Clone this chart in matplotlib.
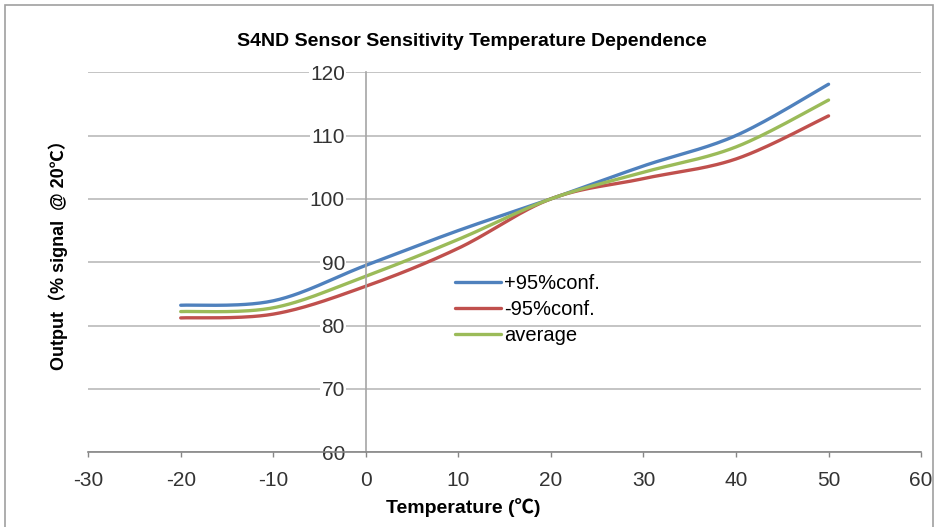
import numpy as np
import matplotlib
matplotlib.use("Agg")
import matplotlib.pyplot as plt
from matplotlib.patches import Rectangle

plt.rcParams['font.family'] = ['Liberation Sans', 'Noto Sans CJK SC', 'DejaVu Sans']
plt.rcParams['axes.unicode_minus'] = False

# 读数（从图上估计）
temps = [-20, -10, 0, 10, 20, 30, 40, 50]
upper_conf = [83.2, 83.9, 89.5, 95.0, 100.0, 105.2, 110.0, 118.1]
lower_conf = [81.2, 81.8, 86.2, 92.2, 100.0, 103.2, 106.3, 113.1]
average = [82.2, 82.8, 87.8, 93.6, 100.0, 104.2, 108.2, 115.6]

series_names = ['+95%conf.', '-95%conf.', 'average']
series_colors = ['#4F81BD', '#C0504D', '#9BBB59']


def smooth_line(x, y, n=30):
    # Excel 风格的平滑线（Catmull-Rom 贝塞尔）
    x = np.asarray(x, float)
    y = np.asarray(y, float)
    pts = np.column_stack([x, y])
    out = []
    for i in range(len(pts) - 1):
        p0 = pts[i - 1] if i > 0 else pts[i]
        p1 = pts[i]
        p2 = pts[i + 1]
        p3 = pts[i + 2] if i + 2 < len(pts) else pts[i + 1]
        c1 = p1 + (p2 - p0) / 6.0
        c2 = p2 - (p3 - p1) / 6.0
        t = np.linspace(0, 1, n)[:, None]
        seg = ((1 - t) ** 3) * p1 + 3 * ((1 - t) ** 2) * t * c1 + 3 * (1 - t) * t ** 2 * c2 + t ** 3 * p2
        out.append(seg if i == 0 else seg[1:])
    seg = np.vstack(out)
    return seg[:, 0], seg[:, 1]


fig = plt.figure(figsize=(9.38, 5.27), dpi=100)
ax = fig.add_axes([0.094, 0.142, 0.888, 0.721])

for vals, name, col in zip([upper_conf, lower_conf, average], series_names, series_colors):
    sx, sy = smooth_line(temps, vals)
    ax.plot(sx, sy, color=col, lw=2.4, label=name, solid_capstyle='round')

ax.set_xlim(-30, 60)
ax.set_ylim(60, 120)
ax.set_xticks(np.arange(-30, 61, 10))
ax.set_yticks(np.arange(60, 121, 10))

# 坐标轴样式
for s in ['top', 'right']:
    ax.spines[s].set_visible(False)
ax.spines['left'].set_position(('data', 0))
ax.spines['left'].set_color('#A6A6A6')
ax.spines['bottom'].set_color('#868686')
ax.spines['left'].set_linewidth(1.2)
ax.spines['bottom'].set_linewidth(1.2)
ax.yaxis.grid(True, color='#BFBFBF', lw=1.3)
ax.set_axisbelow(True)
ax.tick_params(axis='y', length=0, pad=15, labelsize=15, labelcolor='#333333')
ax.tick_params(axis='x', length=3.5, width=1, color='#868686', pad=10, labelsize=15, labelcolor='#333333')
for lab in ax.get_yticklabels():
    lab.set_bbox(dict(facecolor='white', edgecolor='none', pad=1))

ax.legend(loc='upper left', bbox_to_anchor=(0.44, 0.468), frameon=False,
          fontsize=14.5, handlelength=2.3, handletextpad=0.15, labelspacing=0.35,
          borderpad=0, borderaxespad=0)

fig.text(0.503, 1 - 42 / 527, 'S4ND Sensor Sensitivity Temperature Dependence',
         ha='center', va='center', fontsize=14, fontweight='bold')
fig.text(0.494, 1 - 508 / 527, 'Temperature (℃)', ha='center', va='center',
         fontsize=14, fontweight='bold')
fig.text(58 / 938, 1 - 251 / 527, 'Output（% signal  @ 20℃）', ha='center', va='center',
         rotation=90, fontsize=13, fontweight='bold')

# 外框
fig.patches.append(Rectangle((0.005, -0.02), 0.99, 1.01, transform=fig.transFigure,
                             fill=False, edgecolor='#A0A0A0', lw=1.2))

plt.savefig('out.png', dpi=100)
plt.close(fig)
